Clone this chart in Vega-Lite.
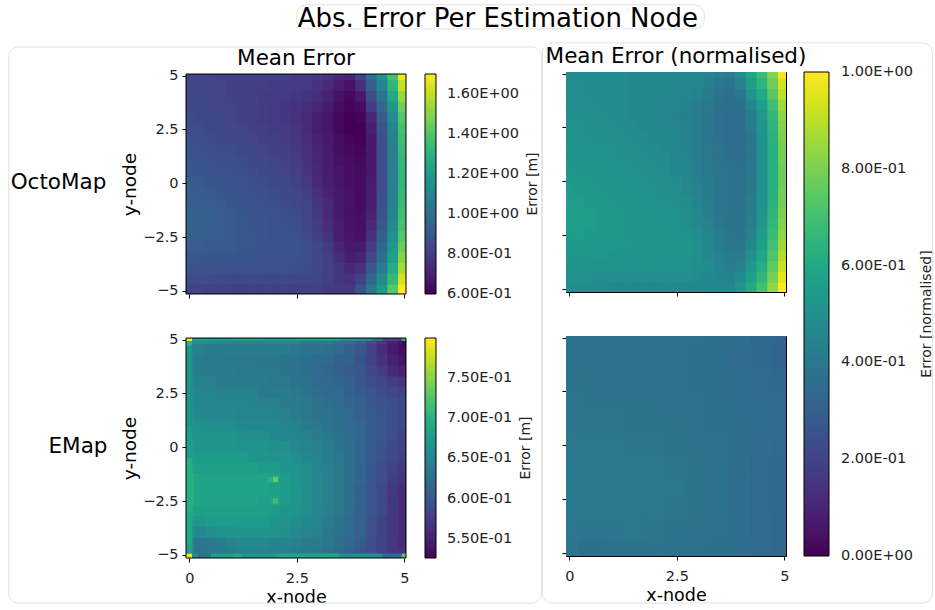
{"$schema":"https://vega.github.io/schema/vega-lite/v6.json","autosize":{"type":"none"},"padding":{"left":186,"top":72,"right":749,"bottom":538},"background":"white","title":{"text":"Abs. Error Per Estimation Node","fontSize":26,"fontWeight":"normal","font":"DejaVu Sans","color":"#000","anchor":"start","dx":290,"dy":32},"config":{"font":"DejaVu Sans","view":{"stroke":null},"axis":{"grid":false,"domain":false,"tickColor":"#000","tickSize":4,"labelColor":"#222","labelFontSize":14.5,"titleFontSize":18.5,"titleFontWeight":"normal","titleColor":"#000","labelPadding":4,"labelFlush":false},"legend":{"gradientStrokeColor":"#000","gradientStrokeWidth":1,"titleFontSize":14,"titleFontWeight":"normal","titleColor":"#222","labelFontSize":14.5,"labelColor":"#222","titleOrient":"right","titlePadding":21}},"datasets":{"cells":[
{"x":0,"y":5,"o":0.82,"e":0.67,"n":0.48},{"x":0.25,"y":5,"o":0.82,"e":0.66,"n":0.48},{"x":0.5,"y":5,"o":0.82,"e":0.66,"n":0.48},{"x":0.75,"y":5,"o":0.81,"e":0.65,"n":0.48},{"x":1,"y":5,"o":0.81,"e":0.65,"n":0.48},{"x":1.25,"y":5,"o":0.81,"e":0.65,"n":0.48},{"x":1.5,"y":5,"o":0.8,"e":0.65,"n":0.47},{"x":1.75,"y":5,"o":0.8,"e":0.65,"n":0.47},{"x":2,"y":5,"o":0.8,"e":0.65,"n":0.47},{"x":2.25,"y":5,"o":0.8,"e":0.65,"n":0.47},{"x":2.5,"y":5,"o":0.79,"e":0.65,"n":0.46},{"x":2.75,"y":5,"o":0.79,"e":0.64,"n":0.46},{"x":3,"y":5,"o":0.78,"e":0.64,"n":0.46},{"x":3.25,"y":5,"o":0.76,"e":0.64,"n":0.45},{"x":3.5,"y":5,"o":0.72,"e":0.63,"n":0.42},{"x":3.75,"y":5,"o":0.7,"e":0.62,"n":0.41},{"x":4,"y":5,"o":0.82,"e":0.61,"n":0.48},{"x":4.25,"y":5,"o":1.0,"e":0.59,"n":0.59},{"x":4.5,"y":5,"o":1.16,"e":0.57,"n":0.68},{"x":4.75,"y":5,"o":1.38,"e":0.55,"n":0.81},{"x":5,"y":5,"o":1.68,"e":0.54,"n":0.99},
{"x":0,"y":4.5,"o":0.83,"e":0.65,"n":0.49},{"x":0.25,"y":4.5,"o":0.83,"e":0.645,"n":0.49},{"x":0.5,"y":4.5,"o":0.82,"e":0.64,"n":0.48},{"x":0.75,"y":4.5,"o":0.82,"e":0.64,"n":0.48},{"x":1,"y":4.5,"o":0.81,"e":0.64,"n":0.48},{"x":1.25,"y":4.5,"o":0.81,"e":0.64,"n":0.48},{"x":1.5,"y":4.5,"o":0.8,"e":0.64,"n":0.47},{"x":1.75,"y":4.5,"o":0.8,"e":0.64,"n":0.47},{"x":2,"y":4.5,"o":0.79,"e":0.64,"n":0.46},{"x":2.25,"y":4.5,"o":0.79,"e":0.64,"n":0.46},{"x":2.5,"y":4.5,"o":0.78,"e":0.635,"n":0.46},{"x":2.75,"y":4.5,"o":0.78,"e":0.63,"n":0.46},{"x":3,"y":4.5,"o":0.76,"e":0.63,"n":0.45},{"x":3.25,"y":4.5,"o":0.73,"e":0.625,"n":0.43},{"x":3.5,"y":4.5,"o":0.68,"e":0.62,"n":0.4},{"x":3.75,"y":4.5,"o":0.65,"e":0.61,"n":0.38},{"x":4,"y":4.5,"o":0.74,"e":0.6,"n":0.44},{"x":4.25,"y":4.5,"o":0.93,"e":0.58,"n":0.55},{"x":4.5,"y":4.5,"o":1.1,"e":0.56,"n":0.65},{"x":4.75,"y":4.5,"o":1.32,"e":0.545,"n":0.78},{"x":5,"y":4.5,"o":1.6,"e":0.535,"n":0.94},
{"x":0,"y":4,"o":0.83,"e":0.65,"n":0.49},{"x":0.25,"y":4,"o":0.83,"e":0.64,"n":0.49},{"x":0.5,"y":4,"o":0.82,"e":0.64,"n":0.48},{"x":0.75,"y":4,"o":0.82,"e":0.64,"n":0.48},{"x":1,"y":4,"o":0.81,"e":0.635,"n":0.48},{"x":1.25,"y":4,"o":0.81,"e":0.635,"n":0.48},{"x":1.5,"y":4,"o":0.8,"e":0.635,"n":0.47},{"x":1.75,"y":4,"o":0.79,"e":0.635,"n":0.46},{"x":2,"y":4,"o":0.79,"e":0.635,"n":0.46},{"x":2.25,"y":4,"o":0.78,"e":0.63,"n":0.46},{"x":2.5,"y":4,"o":0.77,"e":0.63,"n":0.45},{"x":2.75,"y":4,"o":0.76,"e":0.625,"n":0.45},{"x":3,"y":4,"o":0.74,"e":0.62,"n":0.44},{"x":3.25,"y":4,"o":0.7,"e":0.62,"n":0.41},{"x":3.5,"y":4,"o":0.65,"e":0.61,"n":0.38},{"x":3.75,"y":4,"o":0.62,"e":0.61,"n":0.36},{"x":4,"y":4,"o":0.67,"e":0.595,"n":0.39},{"x":4.25,"y":4,"o":0.86,"e":0.58,"n":0.51},{"x":4.5,"y":4,"o":1.03,"e":0.565,"n":0.61},{"x":4.75,"y":4,"o":1.26,"e":0.55,"n":0.74},{"x":5,"y":4,"o":1.53,"e":0.54,"n":0.9},
{"x":0,"y":3.5,"o":0.84,"e":0.65,"n":0.49},{"x":0.25,"y":3.5,"o":0.84,"e":0.64,"n":0.49},{"x":0.5,"y":3.5,"o":0.83,"e":0.64,"n":0.49},{"x":0.75,"y":3.5,"o":0.82,"e":0.64,"n":0.48},{"x":1,"y":3.5,"o":0.82,"e":0.64,"n":0.48},{"x":1.25,"y":3.5,"o":0.81,"e":0.635,"n":0.48},{"x":1.5,"y":3.5,"o":0.8,"e":0.635,"n":0.47},{"x":1.75,"y":3.5,"o":0.79,"e":0.635,"n":0.46},{"x":2,"y":3.5,"o":0.78,"e":0.635,"n":0.46},{"x":2.25,"y":3.5,"o":0.77,"e":0.63,"n":0.45},{"x":2.5,"y":3.5,"o":0.76,"e":0.63,"n":0.45},{"x":2.75,"y":3.5,"o":0.74,"e":0.625,"n":0.44},{"x":3,"y":3.5,"o":0.71,"e":0.62,"n":0.42},{"x":3.25,"y":3.5,"o":0.68,"e":0.615,"n":0.4},{"x":3.5,"y":3.5,"o":0.63,"e":0.61,"n":0.37},{"x":3.75,"y":3.5,"o":0.61,"e":0.605,"n":0.36},{"x":4,"y":3.5,"o":0.63,"e":0.6,"n":0.37},{"x":4.25,"y":3.5,"o":0.78,"e":0.585,"n":0.46},{"x":4.5,"y":3.5,"o":0.96,"e":0.575,"n":0.56},{"x":4.75,"y":3.5,"o":1.18,"e":0.56,"n":0.69},{"x":5,"y":3.5,"o":1.46,"e":0.55,"n":0.86},
{"x":0,"y":3,"o":0.85,"e":0.655,"n":0.5},{"x":0.25,"y":3,"o":0.84,"e":0.645,"n":0.49},{"x":0.5,"y":3,"o":0.84,"e":0.645,"n":0.49},{"x":0.75,"y":3,"o":0.83,"e":0.64,"n":0.49},{"x":1,"y":3,"o":0.82,"e":0.64,"n":0.48},{"x":1.25,"y":3,"o":0.81,"e":0.64,"n":0.48},{"x":1.5,"y":3,"o":0.8,"e":0.64,"n":0.47},{"x":1.75,"y":3,"o":0.79,"e":0.64,"n":0.46},{"x":2,"y":3,"o":0.78,"e":0.635,"n":0.46},{"x":2.25,"y":3,"o":0.77,"e":0.635,"n":0.45},{"x":2.5,"y":3,"o":0.75,"e":0.63,"n":0.44},{"x":2.75,"y":3,"o":0.73,"e":0.63,"n":0.43},{"x":3,"y":3,"o":0.69,"e":0.62,"n":0.41},{"x":3.25,"y":3,"o":0.66,"e":0.62,"n":0.39},{"x":3.5,"y":3,"o":0.62,"e":0.615,"n":0.36},{"x":3.75,"y":3,"o":0.6,"e":0.61,"n":0.35},{"x":4,"y":3,"o":0.61,"e":0.6,"n":0.36},{"x":4.25,"y":3,"o":0.72,"e":0.59,"n":0.42},{"x":4.5,"y":3,"o":0.91,"e":0.585,"n":0.54},{"x":4.75,"y":3,"o":1.13,"e":0.575,"n":0.66},{"x":5,"y":3,"o":1.41,"e":0.565,"n":0.83},
{"x":0,"y":2.5,"o":0.86,"e":0.66,"n":0.51},{"x":0.25,"y":2.5,"o":0.85,"e":0.65,"n":0.5},{"x":0.5,"y":2.5,"o":0.84,"e":0.65,"n":0.49},{"x":0.75,"y":2.5,"o":0.83,"e":0.645,"n":0.49},{"x":1,"y":2.5,"o":0.83,"e":0.645,"n":0.49},{"x":1.25,"y":2.5,"o":0.82,"e":0.645,"n":0.48},{"x":1.5,"y":2.5,"o":0.81,"e":0.645,"n":0.48},{"x":1.75,"y":2.5,"o":0.8,"e":0.64,"n":0.47},{"x":2,"y":2.5,"o":0.79,"e":0.64,"n":0.46},{"x":2.25,"y":2.5,"o":0.78,"e":0.64,"n":0.46},{"x":2.5,"y":2.5,"o":0.77,"e":0.635,"n":0.45},{"x":2.75,"y":2.5,"o":0.73,"e":0.63,"n":0.43},{"x":3,"y":2.5,"o":0.69,"e":0.625,"n":0.41},{"x":3.25,"y":2.5,"o":0.66,"e":0.62,"n":0.39},{"x":3.5,"y":2.5,"o":0.62,"e":0.62,"n":0.36},{"x":3.75,"y":2.5,"o":0.6,"e":0.61,"n":0.35},{"x":4,"y":2.5,"o":0.6,"e":0.605,"n":0.35},{"x":4.25,"y":2.5,"o":0.69,"e":0.6,"n":0.41},{"x":4.5,"y":2.5,"o":0.88,"e":0.59,"n":0.52},{"x":4.75,"y":2.5,"o":1.1,"e":0.585,"n":0.65},{"x":5,"y":2.5,"o":1.38,"e":0.58,"n":0.81},
{"x":0,"y":2,"o":0.87,"e":0.66,"n":0.51},{"x":0.25,"y":2,"o":0.86,"e":0.65,"n":0.51},{"x":0.5,"y":2,"o":0.85,"e":0.65,"n":0.5},{"x":0.75,"y":2,"o":0.84,"e":0.65,"n":0.49},{"x":1,"y":2,"o":0.84,"e":0.65,"n":0.49},{"x":1.25,"y":2,"o":0.83,"e":0.65,"n":0.49},{"x":1.5,"y":2,"o":0.82,"e":0.645,"n":0.48},{"x":1.75,"y":2,"o":0.81,"e":0.645,"n":0.48},{"x":2,"y":2,"o":0.8,"e":0.645,"n":0.47},{"x":2.25,"y":2,"o":0.79,"e":0.64,"n":0.46},{"x":2.5,"y":2,"o":0.77,"e":0.64,"n":0.45},{"x":2.75,"y":2,"o":0.74,"e":0.635,"n":0.44},{"x":3,"y":2,"o":0.7,"e":0.63,"n":0.41},{"x":3.25,"y":2,"o":0.67,"e":0.625,"n":0.39},{"x":3.5,"y":2,"o":0.63,"e":0.62,"n":0.37},{"x":3.75,"y":2,"o":0.61,"e":0.615,"n":0.36},{"x":4,"y":2,"o":0.6,"e":0.61,"n":0.35},{"x":4.25,"y":2,"o":0.67,"e":0.6,"n":0.39},{"x":4.5,"y":2,"o":0.86,"e":0.595,"n":0.51},{"x":4.75,"y":2,"o":1.08,"e":0.59,"n":0.64},{"x":5,"y":2,"o":1.36,"e":0.585,"n":0.8},
{"x":0,"y":1.5,"o":0.88,"e":0.665,"n":0.52},{"x":0.25,"y":1.5,"o":0.87,"e":0.655,"n":0.51},{"x":0.5,"y":1.5,"o":0.86,"e":0.655,"n":0.51},{"x":0.75,"y":1.5,"o":0.85,"e":0.655,"n":0.5},{"x":1,"y":1.5,"o":0.85,"e":0.655,"n":0.5},{"x":1.25,"y":1.5,"o":0.84,"e":0.65,"n":0.49},{"x":1.5,"y":1.5,"o":0.83,"e":0.65,"n":0.49},{"x":1.75,"y":1.5,"o":0.82,"e":0.65,"n":0.48},{"x":2,"y":1.5,"o":0.81,"e":0.65,"n":0.48},{"x":2.25,"y":1.5,"o":0.8,"e":0.645,"n":0.47},{"x":2.5,"y":1.5,"o":0.78,"e":0.64,"n":0.46},{"x":2.75,"y":1.5,"o":0.75,"e":0.635,"n":0.44},{"x":3,"y":1.5,"o":0.71,"e":0.63,"n":0.42},{"x":3.25,"y":1.5,"o":0.68,"e":0.63,"n":0.4},{"x":3.5,"y":1.5,"o":0.64,"e":0.625,"n":0.38},{"x":3.75,"y":1.5,"o":0.62,"e":0.62,"n":0.36},{"x":4,"y":1.5,"o":0.61,"e":0.61,"n":0.36},{"x":4.25,"y":1.5,"o":0.67,"e":0.605,"n":0.39},{"x":4.5,"y":1.5,"o":0.85,"e":0.6,"n":0.5},{"x":4.75,"y":1.5,"o":1.07,"e":0.59,"n":0.63},{"x":5,"y":1.5,"o":1.35,"e":0.585,"n":0.79},
{"x":0,"y":1,"o":0.89,"e":0.665,"n":0.52},{"x":0.25,"y":1,"o":0.88,"e":0.66,"n":0.52},{"x":0.5,"y":1,"o":0.87,"e":0.66,"n":0.51},{"x":0.75,"y":1,"o":0.86,"e":0.66,"n":0.51},{"x":1,"y":1,"o":0.86,"e":0.66,"n":0.51},{"x":1.25,"y":1,"o":0.85,"e":0.655,"n":0.5},{"x":1.5,"y":1,"o":0.84,"e":0.655,"n":0.49},{"x":1.75,"y":1,"o":0.83,"e":0.655,"n":0.49},{"x":2,"y":1,"o":0.82,"e":0.655,"n":0.48},{"x":2.25,"y":1,"o":0.81,"e":0.65,"n":0.48},{"x":2.5,"y":1,"o":0.79,"e":0.645,"n":0.46},{"x":2.75,"y":1,"o":0.76,"e":0.64,"n":0.45},{"x":3,"y":1,"o":0.71,"e":0.635,"n":0.42},{"x":3.25,"y":1,"o":0.68,"e":0.63,"n":0.4},{"x":3.5,"y":1,"o":0.65,"e":0.625,"n":0.38},{"x":3.75,"y":1,"o":0.63,"e":0.62,"n":0.37},{"x":4,"y":1,"o":0.62,"e":0.615,"n":0.36},{"x":4.25,"y":1,"o":0.67,"e":0.605,"n":0.39},{"x":4.5,"y":1,"o":0.85,"e":0.6,"n":0.5},{"x":4.75,"y":1,"o":1.07,"e":0.59,"n":0.63},{"x":5,"y":1,"o":1.34,"e":0.585,"n":0.79},
{"x":0,"y":0.5,"o":0.9,"e":0.67,"n":0.53},{"x":0.25,"y":0.5,"o":0.89,"e":0.665,"n":0.52},{"x":0.5,"y":0.5,"o":0.88,"e":0.665,"n":0.52},{"x":0.75,"y":0.5,"o":0.88,"e":0.665,"n":0.52},{"x":1,"y":0.5,"o":0.87,"e":0.665,"n":0.51},{"x":1.25,"y":0.5,"o":0.86,"e":0.66,"n":0.51},{"x":1.5,"y":0.5,"o":0.85,"e":0.66,"n":0.5},{"x":1.75,"y":0.5,"o":0.84,"e":0.66,"n":0.49},{"x":2,"y":0.5,"o":0.83,"e":0.655,"n":0.49},{"x":2.25,"y":0.5,"o":0.82,"e":0.65,"n":0.48},{"x":2.5,"y":0.5,"o":0.8,"e":0.65,"n":0.47},{"x":2.75,"y":0.5,"o":0.77,"e":0.645,"n":0.45},{"x":3,"y":0.5,"o":0.72,"e":0.64,"n":0.42},{"x":3.25,"y":0.5,"o":0.68,"e":0.635,"n":0.4},{"x":3.5,"y":0.5,"o":0.66,"e":0.63,"n":0.39},{"x":3.75,"y":0.5,"o":0.64,"e":0.62,"n":0.38},{"x":4,"y":0.5,"o":0.63,"e":0.615,"n":0.37},{"x":4.25,"y":0.5,"o":0.67,"e":0.605,"n":0.39},{"x":4.5,"y":0.5,"o":0.85,"e":0.6,"n":0.5},{"x":4.75,"y":0.5,"o":1.07,"e":0.59,"n":0.63},{"x":5,"y":0.5,"o":1.33,"e":0.58,"n":0.78},
{"x":0,"y":0,"o":0.92,"e":0.675,"n":0.54},{"x":0.25,"y":0,"o":0.91,"e":0.67,"n":0.54},{"x":0.5,"y":0,"o":0.9,"e":0.67,"n":0.53},{"x":0.75,"y":0,"o":0.89,"e":0.67,"n":0.52},{"x":1,"y":0,"o":0.88,"e":0.67,"n":0.52},{"x":1.25,"y":0,"o":0.87,"e":0.665,"n":0.51},{"x":1.5,"y":0,"o":0.86,"e":0.665,"n":0.51},{"x":1.75,"y":0,"o":0.85,"e":0.665,"n":0.5},{"x":2,"y":0,"o":0.84,"e":0.66,"n":0.49},{"x":2.25,"y":0,"o":0.83,"e":0.66,"n":0.49},{"x":2.5,"y":0,"o":0.81,"e":0.655,"n":0.48},{"x":2.75,"y":0,"o":0.78,"e":0.65,"n":0.46},{"x":3,"y":0,"o":0.73,"e":0.645,"n":0.43},{"x":3.25,"y":0,"o":0.69,"e":0.64,"n":0.41},{"x":3.5,"y":0,"o":0.66,"e":0.63,"n":0.39},{"x":3.75,"y":0,"o":0.64,"e":0.625,"n":0.38},{"x":4,"y":0,"o":0.63,"e":0.615,"n":0.37},{"x":4.25,"y":0,"o":0.68,"e":0.605,"n":0.4},{"x":4.5,"y":0,"o":0.85,"e":0.595,"n":0.5},{"x":4.75,"y":0,"o":1.07,"e":0.585,"n":0.63},{"x":5,"y":0,"o":1.33,"e":0.58,"n":0.78},
{"x":0,"y":-0.5,"o":0.93,"e":0.68,"n":0.55},{"x":0.25,"y":-0.5,"o":0.92,"e":0.675,"n":0.54},{"x":0.5,"y":-0.5,"o":0.91,"e":0.675,"n":0.54},{"x":0.75,"y":-0.5,"o":0.9,"e":0.675,"n":0.53},{"x":1,"y":-0.5,"o":0.89,"e":0.675,"n":0.52},{"x":1.25,"y":-0.5,"o":0.88,"e":0.675,"n":0.52},{"x":1.5,"y":-0.5,"o":0.87,"e":0.67,"n":0.51},{"x":1.75,"y":-0.5,"o":0.86,"e":0.67,"n":0.51},{"x":2,"y":-0.5,"o":0.85,"e":0.665,"n":0.5},{"x":2.25,"y":-0.5,"o":0.84,"e":0.665,"n":0.49},{"x":2.5,"y":-0.5,"o":0.83,"e":0.66,"n":0.49},{"x":2.75,"y":-0.5,"o":0.8,"e":0.655,"n":0.47},{"x":3,"y":-0.5,"o":0.75,"e":0.65,"n":0.44},{"x":3.25,"y":-0.5,"o":0.7,"e":0.64,"n":0.41},{"x":3.5,"y":-0.5,"o":0.67,"e":0.635,"n":0.39},{"x":3.75,"y":-0.5,"o":0.65,"e":0.625,"n":0.38},{"x":4,"y":-0.5,"o":0.63,"e":0.615,"n":0.37},{"x":4.25,"y":-0.5,"o":0.68,"e":0.605,"n":0.4},{"x":4.5,"y":-0.5,"o":0.86,"e":0.595,"n":0.51},{"x":4.75,"y":-0.5,"o":1.07,"e":0.585,"n":0.63},{"x":5,"y":-0.5,"o":1.34,"e":0.575,"n":0.79},
{"x":0,"y":-1,"o":0.94,"e":0.685,"n":0.55},{"x":0.25,"y":-1,"o":0.93,"e":0.68,"n":0.55},{"x":0.5,"y":-1,"o":0.92,"e":0.68,"n":0.54},{"x":0.75,"y":-1,"o":0.91,"e":0.68,"n":0.54},{"x":1,"y":-1,"o":0.9,"e":0.68,"n":0.53},{"x":1.25,"y":-1,"o":0.89,"e":0.68,"n":0.52},{"x":1.5,"y":-1,"o":0.88,"e":0.68,"n":0.52},{"x":1.75,"y":-1,"o":0.87,"e":0.675,"n":0.51},{"x":2,"y":-1,"o":0.86,"e":0.675,"n":0.51},{"x":2.25,"y":-1,"o":0.85,"e":0.67,"n":0.5},{"x":2.5,"y":-1,"o":0.84,"e":0.665,"n":0.49},{"x":2.75,"y":-1,"o":0.82,"e":0.66,"n":0.48},{"x":3,"y":-1,"o":0.77,"e":0.65,"n":0.45},{"x":3.25,"y":-1,"o":0.72,"e":0.645,"n":0.42},{"x":3.5,"y":-1,"o":0.67,"e":0.635,"n":0.39},{"x":3.75,"y":-1,"o":0.65,"e":0.625,"n":0.38},{"x":4,"y":-1,"o":0.63,"e":0.615,"n":0.37},{"x":4.25,"y":-1,"o":0.69,"e":0.6,"n":0.41},{"x":4.5,"y":-1,"o":0.87,"e":0.59,"n":0.51},{"x":4.75,"y":-1,"o":1.09,"e":0.58,"n":0.64},{"x":5,"y":-1,"o":1.35,"e":0.57,"n":0.79},
{"x":0,"y":-1.5,"o":0.95,"e":0.7,"n":0.56},{"x":0.25,"y":-1.5,"o":0.94,"e":0.685,"n":0.55},{"x":0.5,"y":-1.5,"o":0.93,"e":0.685,"n":0.55},{"x":0.75,"y":-1.5,"o":0.92,"e":0.685,"n":0.54},{"x":1,"y":-1.5,"o":0.91,"e":0.685,"n":0.54},{"x":1.25,"y":-1.5,"o":0.9,"e":0.685,"n":0.53},{"x":1.5,"y":-1.5,"o":0.89,"e":0.685,"n":0.52},{"x":1.75,"y":-1.5,"o":0.88,"e":0.685,"n":0.52},{"x":2,"y":-1.5,"o":0.87,"e":0.685,"n":0.51},{"x":2.25,"y":-1.5,"o":0.86,"e":0.675,"n":0.51},{"x":2.5,"y":-1.5,"o":0.85,"e":0.665,"n":0.5},{"x":2.75,"y":-1.5,"o":0.83,"e":0.66,"n":0.49},{"x":3,"y":-1.5,"o":0.78,"e":0.655,"n":0.46},{"x":3.25,"y":-1.5,"o":0.72,"e":0.645,"n":0.42},{"x":3.5,"y":-1.5,"o":0.67,"e":0.635,"n":0.39},{"x":3.75,"y":-1.5,"o":0.65,"e":0.625,"n":0.38},{"x":4,"y":-1.5,"o":0.64,"e":0.615,"n":0.38},{"x":4.25,"y":-1.5,"o":0.7,"e":0.6,"n":0.41},{"x":4.5,"y":-1.5,"o":0.88,"e":0.59,"n":0.52},{"x":4.75,"y":-1.5,"o":1.1,"e":0.575,"n":0.65},{"x":5,"y":-1.5,"o":1.36,"e":0.565,"n":0.8},
{"x":0,"y":-2,"o":0.95,"e":0.7,"n":0.56},{"x":0.25,"y":-2,"o":0.94,"e":0.685,"n":0.55},{"x":0.5,"y":-2,"o":0.93,"e":0.685,"n":0.55},{"x":0.75,"y":-2,"o":0.92,"e":0.685,"n":0.54},{"x":1,"y":-2,"o":0.91,"e":0.685,"n":0.54},{"x":1.25,"y":-2,"o":0.9,"e":0.685,"n":0.53},{"x":1.5,"y":-2,"o":0.89,"e":0.685,"n":0.52},{"x":1.75,"y":-2,"o":0.89,"e":0.685,"n":0.52},{"x":2,"y":-2,"o":0.88,"e":0.68,"n":0.52},{"x":2.25,"y":-2,"o":0.87,"e":0.675,"n":0.51},{"x":2.5,"y":-2,"o":0.86,"e":0.67,"n":0.51},{"x":2.75,"y":-2,"o":0.84,"e":0.66,"n":0.49},{"x":3,"y":-2,"o":0.79,"e":0.655,"n":0.46},{"x":3.25,"y":-2,"o":0.74,"e":0.645,"n":0.44},{"x":3.5,"y":-2,"o":0.68,"e":0.635,"n":0.4},{"x":3.75,"y":-2,"o":0.65,"e":0.625,"n":0.38},{"x":4,"y":-2,"o":0.64,"e":0.61,"n":0.38},{"x":4.25,"y":-2,"o":0.72,"e":0.6,"n":0.42},{"x":4.5,"y":-2,"o":0.9,"e":0.585,"n":0.53},{"x":4.75,"y":-2,"o":1.12,"e":0.57,"n":0.66},{"x":5,"y":-2,"o":1.38,"e":0.56,"n":0.81},
{"x":0,"y":-2.5,"o":0.94,"e":0.7,"n":0.55},{"x":0.25,"y":-2.5,"o":0.93,"e":0.685,"n":0.55},{"x":0.5,"y":-2.5,"o":0.92,"e":0.685,"n":0.54},{"x":0.75,"y":-2.5,"o":0.92,"e":0.685,"n":0.54},{"x":1,"y":-2.5,"o":0.91,"e":0.685,"n":0.54},{"x":1.25,"y":-2.5,"o":0.9,"e":0.685,"n":0.53},{"x":1.5,"y":-2.5,"o":0.9,"e":0.685,"n":0.53},{"x":1.75,"y":-2.5,"o":0.89,"e":0.68,"n":0.52},{"x":2,"y":-2.5,"o":0.88,"e":0.685,"n":0.52},{"x":2.25,"y":-2.5,"o":0.88,"e":0.675,"n":0.52},{"x":2.5,"y":-2.5,"o":0.87,"e":0.67,"n":0.51},{"x":2.75,"y":-2.5,"o":0.85,"e":0.66,"n":0.5},{"x":3,"y":-2.5,"o":0.81,"e":0.655,"n":0.48},{"x":3.25,"y":-2.5,"o":0.76,"e":0.645,"n":0.45},{"x":3.5,"y":-2.5,"o":0.69,"e":0.635,"n":0.41},{"x":3.75,"y":-2.5,"o":0.66,"e":0.625,"n":0.39},{"x":4,"y":-2.5,"o":0.65,"e":0.61,"n":0.38},{"x":4.25,"y":-2.5,"o":0.75,"e":0.6,"n":0.44},{"x":4.5,"y":-2.5,"o":0.93,"e":0.585,"n":0.55},{"x":4.75,"y":-2.5,"o":1.15,"e":0.57,"n":0.68},{"x":5,"y":-2.5,"o":1.41,"e":0.56,"n":0.83},
{"x":0,"y":-3,"o":0.92,"e":0.69,"n":0.54},{"x":0.25,"y":-3,"o":0.92,"e":0.68,"n":0.54},{"x":0.5,"y":-3,"o":0.91,"e":0.68,"n":0.54},{"x":0.75,"y":-3,"o":0.91,"e":0.68,"n":0.54},{"x":1,"y":-3,"o":0.91,"e":0.68,"n":0.54},{"x":1.25,"y":-3,"o":0.9,"e":0.68,"n":0.53},{"x":1.5,"y":-3,"o":0.9,"e":0.68,"n":0.53},{"x":1.75,"y":-3,"o":0.89,"e":0.68,"n":0.52},{"x":2,"y":-3,"o":0.89,"e":0.675,"n":0.52},{"x":2.25,"y":-3,"o":0.88,"e":0.67,"n":0.52},{"x":2.5,"y":-3,"o":0.88,"e":0.665,"n":0.52},{"x":2.75,"y":-3,"o":0.86,"e":0.66,"n":0.51},{"x":3,"y":-3,"o":0.83,"e":0.65,"n":0.49},{"x":3.25,"y":-3,"o":0.78,"e":0.645,"n":0.46},{"x":3.5,"y":-3,"o":0.71,"e":0.635,"n":0.42},{"x":3.75,"y":-3,"o":0.67,"e":0.625,"n":0.39},{"x":4,"y":-3,"o":0.67,"e":0.61,"n":0.39},{"x":4.25,"y":-3,"o":0.79,"e":0.6,"n":0.46},{"x":4.5,"y":-3,"o":0.97,"e":0.585,"n":0.57},{"x":4.75,"y":-3,"o":1.19,"e":0.57,"n":0.7},{"x":5,"y":-3,"o":1.45,"e":0.56,"n":0.85},
{"x":0,"y":-3.5,"o":0.9,"e":0.68,"n":0.53},{"x":0.25,"y":-3.5,"o":0.9,"e":0.67,"n":0.53},{"x":0.5,"y":-3.5,"o":0.9,"e":0.675,"n":0.53},{"x":0.75,"y":-3.5,"o":0.9,"e":0.675,"n":0.53},{"x":1,"y":-3.5,"o":0.89,"e":0.675,"n":0.52},{"x":1.25,"y":-3.5,"o":0.89,"e":0.675,"n":0.52},{"x":1.5,"y":-3.5,"o":0.89,"e":0.675,"n":0.52},{"x":1.75,"y":-3.5,"o":0.88,"e":0.675,"n":0.52},{"x":2,"y":-3.5,"o":0.88,"e":0.67,"n":0.52},{"x":2.25,"y":-3.5,"o":0.88,"e":0.665,"n":0.52},{"x":2.5,"y":-3.5,"o":0.87,"e":0.66,"n":0.51},{"x":2.75,"y":-3.5,"o":0.86,"e":0.655,"n":0.51},{"x":3,"y":-3.5,"o":0.84,"e":0.65,"n":0.49},{"x":3.25,"y":-3.5,"o":0.8,"e":0.64,"n":0.47},{"x":3.5,"y":-3.5,"o":0.74,"e":0.63,"n":0.44},{"x":3.75,"y":-3.5,"o":0.69,"e":0.62,"n":0.41},{"x":4,"y":-3.5,"o":0.7,"e":0.61,"n":0.41},{"x":4.25,"y":-3.5,"o":0.84,"e":0.595,"n":0.49},{"x":4.5,"y":-3.5,"o":1.01,"e":0.58,"n":0.59},{"x":4.75,"y":-3.5,"o":1.23,"e":0.57,"n":0.72},{"x":5,"y":-3.5,"o":1.5,"e":0.56,"n":0.88},
{"x":0,"y":-4,"o":0.88,"e":0.67,"n":0.52},{"x":0.25,"y":-4,"o":0.88,"e":0.655,"n":0.52},{"x":0.5,"y":-4,"o":0.88,"e":0.66,"n":0.52},{"x":0.75,"y":-4,"o":0.87,"e":0.665,"n":0.51},{"x":1,"y":-4,"o":0.87,"e":0.665,"n":0.51},{"x":1.25,"y":-4,"o":0.87,"e":0.67,"n":0.51},{"x":1.5,"y":-4,"o":0.87,"e":0.67,"n":0.51},{"x":1.75,"y":-4,"o":0.87,"e":0.67,"n":0.51},{"x":2,"y":-4,"o":0.87,"e":0.665,"n":0.51},{"x":2.25,"y":-4,"o":0.87,"e":0.66,"n":0.51},{"x":2.5,"y":-4,"o":0.86,"e":0.655,"n":0.51},{"x":2.75,"y":-4,"o":0.85,"e":0.65,"n":0.5},{"x":3,"y":-4,"o":0.84,"e":0.645,"n":0.49},{"x":3.25,"y":-4,"o":0.81,"e":0.635,"n":0.48},{"x":3.5,"y":-4,"o":0.77,"e":0.63,"n":0.45},{"x":3.75,"y":-4,"o":0.72,"e":0.62,"n":0.42},{"x":4,"y":-4,"o":0.75,"e":0.61,"n":0.44},{"x":4.25,"y":-4,"o":0.9,"e":0.595,"n":0.53},{"x":4.5,"y":-4,"o":1.06,"e":0.58,"n":0.62},{"x":4.75,"y":-4,"o":1.28,"e":0.57,"n":0.75},{"x":5,"y":-4,"o":1.56,"e":0.56,"n":0.92},
{"x":0,"y":-4.5,"o":0.85,"e":0.66,"n":0.5},{"x":0.25,"y":-4.5,"o":0.85,"e":0.635,"n":0.5},{"x":0.5,"y":-4.5,"o":0.85,"e":0.635,"n":0.5},{"x":0.75,"y":-4.5,"o":0.84,"e":0.64,"n":0.49},{"x":1,"y":-4.5,"o":0.84,"e":0.65,"n":0.49},{"x":1.25,"y":-4.5,"o":0.84,"e":0.655,"n":0.49},{"x":1.5,"y":-4.5,"o":0.84,"e":0.655,"n":0.49},{"x":1.75,"y":-4.5,"o":0.84,"e":0.655,"n":0.49},{"x":2,"y":-4.5,"o":0.84,"e":0.65,"n":0.49},{"x":2.25,"y":-4.5,"o":0.84,"e":0.65,"n":0.49},{"x":2.5,"y":-4.5,"o":0.84,"e":0.645,"n":0.49},{"x":2.75,"y":-4.5,"o":0.83,"e":0.64,"n":0.49},{"x":3,"y":-4.5,"o":0.82,"e":0.64,"n":0.48},{"x":3.25,"y":-4.5,"o":0.8,"e":0.635,"n":0.47},{"x":3.5,"y":-4.5,"o":0.77,"e":0.625,"n":0.45},{"x":3.75,"y":-4.5,"o":0.75,"e":0.615,"n":0.44},{"x":4,"y":-4.5,"o":0.81,"e":0.605,"n":0.48},{"x":4.25,"y":-4.5,"o":0.97,"e":0.59,"n":0.57},{"x":4.5,"y":-4.5,"o":1.12,"e":0.58,"n":0.66},{"x":4.75,"y":-4.5,"o":1.34,"e":0.57,"n":0.79},{"x":5,"y":-4.5,"o":1.63,"e":0.56,"n":0.96},
{"x":0,"y":-5,"o":0.82,"e":0.66,"n":0.48},{"x":0.25,"y":-5,"o":0.82,"e":0.63,"n":0.48},{"x":0.5,"y":-5,"o":0.81,"e":0.635,"n":0.48},{"x":0.75,"y":-5,"o":0.81,"e":0.64,"n":0.48},{"x":1,"y":-5,"o":0.8,"e":0.64,"n":0.47},{"x":1.25,"y":-5,"o":0.8,"e":0.645,"n":0.47},{"x":1.5,"y":-5,"o":0.8,"e":0.645,"n":0.47},{"x":1.75,"y":-5,"o":0.8,"e":0.645,"n":0.47},{"x":2,"y":-5,"o":0.8,"e":0.645,"n":0.47},{"x":2.25,"y":-5,"o":0.8,"e":0.645,"n":0.47},{"x":2.5,"y":-5,"o":0.8,"e":0.64,"n":0.47},{"x":2.75,"y":-5,"o":0.8,"e":0.64,"n":0.47},{"x":3,"y":-5,"o":0.8,"e":0.635,"n":0.47},{"x":3.25,"y":-5,"o":0.79,"e":0.63,"n":0.46},{"x":3.5,"y":-5,"o":0.78,"e":0.62,"n":0.46},{"x":3.75,"y":-5,"o":0.78,"e":0.61,"n":0.46},{"x":4,"y":-5,"o":0.88,"e":0.6,"n":0.52},{"x":4.25,"y":-5,"o":1.04,"e":0.59,"n":0.61},{"x":4.5,"y":-5,"o":1.19,"e":0.58,"n":0.7},{"x":4.75,"y":-5,"o":1.41,"e":0.57,"n":0.83},{"x":5,"y":-5,"o":1.7,"e":0.565,"n":1.0}
],"emapNorm":[
{"x":0,"y":5,"n":0.385},{"x":0.5,"y":5,"n":0.38},{"x":1,"y":5,"n":0.38},{"x":1.5,"y":5,"n":0.38},{"x":2,"y":5,"n":0.38},{"x":2.5,"y":5,"n":0.375},{"x":3,"y":5,"n":0.37},{"x":3.5,"y":5,"n":0.365},{"x":4,"y":5,"n":0.36},{"x":4.5,"y":5,"n":0.335},{"x":5,"y":5,"n":0.32},
{"x":0,"y":4,"n":0.38},{"x":0.5,"y":4,"n":0.376},{"x":1,"y":4,"n":0.374},{"x":1.5,"y":4,"n":0.374},{"x":2,"y":4,"n":0.374},{"x":2.5,"y":4,"n":0.37},{"x":3,"y":4,"n":0.365},{"x":3.5,"y":4,"n":0.36},{"x":4,"y":4,"n":0.35},{"x":4.5,"y":4,"n":0.332},{"x":5,"y":4,"n":0.318},
{"x":0,"y":3,"n":0.385},{"x":0.5,"y":3,"n":0.379},{"x":1,"y":3,"n":0.376},{"x":1.5,"y":3,"n":0.376},{"x":2,"y":3,"n":0.374},{"x":2.5,"y":3,"n":0.37},{"x":3,"y":3,"n":0.365},{"x":3.5,"y":3,"n":0.362},{"x":4,"y":3,"n":0.353},{"x":4.5,"y":3,"n":0.344},{"x":5,"y":3,"n":0.332},
{"x":0,"y":2,"n":0.388},{"x":0.5,"y":2,"n":0.382},{"x":1,"y":2,"n":0.382},{"x":1.5,"y":2,"n":0.379},{"x":2,"y":2,"n":0.379},{"x":2.5,"y":2,"n":0.376},{"x":3,"y":2,"n":0.37},{"x":3.5,"y":2,"n":0.365},{"x":4,"y":2,"n":0.359},{"x":4.5,"y":2,"n":0.35},{"x":5,"y":2,"n":0.344},
{"x":0,"y":1,"n":0.391},{"x":0.5,"y":1,"n":0.388},{"x":1,"y":1,"n":0.388},{"x":1.5,"y":1,"n":0.385},{"x":2,"y":1,"n":0.385},{"x":2.5,"y":1,"n":0.379},{"x":3,"y":1,"n":0.374},{"x":3.5,"y":1,"n":0.368},{"x":4,"y":1,"n":0.362},{"x":4.5,"y":1,"n":0.353},{"x":5,"y":1,"n":0.344},
{"x":0,"y":0,"n":0.397},{"x":0.5,"y":0,"n":0.394},{"x":1,"y":0,"n":0.394},{"x":1.5,"y":0,"n":0.391},{"x":2,"y":0,"n":0.388},{"x":2.5,"y":0,"n":0.385},{"x":3,"y":0,"n":0.379},{"x":3.5,"y":0,"n":0.371},{"x":4,"y":0,"n":0.362},{"x":4.5,"y":0,"n":0.35},{"x":5,"y":0,"n":0.341},
{"x":0,"y":-1,"n":0.403},{"x":0.5,"y":-1,"n":0.4},{"x":1,"y":-1,"n":0.4},{"x":1.5,"y":-1,"n":0.4},{"x":2,"y":-1,"n":0.397},{"x":2.5,"y":-1,"n":0.391},{"x":3,"y":-1,"n":0.382},{"x":3.5,"y":-1,"n":0.374},{"x":4,"y":-1,"n":0.362},{"x":4.5,"y":-1,"n":0.347},{"x":5,"y":-1,"n":0.335},
{"x":0,"y":-2,"n":0.41},{"x":0.5,"y":-2,"n":0.403},{"x":1,"y":-2,"n":0.403},{"x":1.5,"y":-2,"n":0.403},{"x":2,"y":-2,"n":0.4},{"x":2.5,"y":-2,"n":0.394},{"x":3,"y":-2,"n":0.385},{"x":3.5,"y":-2,"n":0.374},{"x":4,"y":-2,"n":0.359},{"x":4.5,"y":-2,"n":0.344},{"x":5,"y":-2,"n":0.329},
{"x":0,"y":-3,"n":0.406},{"x":0.5,"y":-3,"n":0.4},{"x":1,"y":-3,"n":0.4},{"x":1.5,"y":-3,"n":0.4},{"x":2,"y":-3,"n":0.397},{"x":2.5,"y":-3,"n":0.391},{"x":3,"y":-3,"n":0.382},{"x":3.5,"y":-3,"n":0.374},{"x":4,"y":-3,"n":0.359},{"x":4.5,"y":-3,"n":0.344},{"x":5,"y":-3,"n":0.329},
{"x":0,"y":-4,"n":0.394},{"x":0.5,"y":-4,"n":0.388},{"x":1,"y":-4,"n":0.391},{"x":1.5,"y":-4,"n":0.394},{"x":2,"y":-4,"n":0.391},{"x":2.5,"y":-4,"n":0.385},{"x":3,"y":-4,"n":0.379},{"x":3.5,"y":-4,"n":0.371},{"x":4,"y":-4,"n":0.359},{"x":4.5,"y":-4,"n":0.341},{"x":5,"y":-4,"n":0.329},
{"x":0,"y":-5,"n":0.388},{"x":0.5,"y":-5,"n":0.368},{"x":1,"y":-5,"n":0.376},{"x":1.5,"y":-5,"n":0.379},{"x":2,"y":-5,"n":0.379},{"x":2.5,"y":-5,"n":0.376},{"x":3,"y":-5,"n":0.374},{"x":3.5,"y":-5,"n":0.365},{"x":4,"y":-5,"n":0.353},{"x":4.5,"y":-5,"n":0.341},{"x":5,"y":-5,"n":0.332}
],"emapEdge":[
{"x":0.06,"x2":0.5,"y":4.94,"y2":5.08,"v":0.68},{"x":0.5,"x2":1,"y":4.94,"y2":5.08,"v":0.675},{"x":1,"x2":1.75,"y":4.94,"y2":5.08,"v":0.685},{"x":1.75,"x2":3,"y":4.94,"y2":5.08,"v":0.675},{"x":3,"x2":3.5,"y":4.94,"y2":5.08,"v":0.68},{"x":3.5,"x2":4.25,"y":4.94,"y2":5.08,"v":0.66},{"x":4.25,"x2":4.5,"y":4.94,"y2":5.08,"v":0.63},{"x":4.5,"x2":4.94,"y":4.94,"y2":5.08,"v":0.58},{"x":4.94,"x2":5.04,"y":4.94,"y2":5.08,"v":0.69},{"x":4.94,"x2":5.04,"y":4.65,"y2":4.94,"v":0.53},
{"x":0.06,"x2":0.2,"y":-5.15,"y2":-4.94,"v":0.66},{"x":0.2,"x2":0.5,"y":-5.15,"y2":-4.94,"v":0.63},{"x":0.5,"x2":1,"y":-5.15,"y2":-4.94,"v":0.68},{"x":1,"x2":1.25,"y":-5.15,"y2":-4.94,"v":0.69},{"x":1.25,"x2":2,"y":-5.15,"y2":-4.94,"v":0.67},{"x":2,"x2":3.5,"y":-5.15,"y2":-4.94,"v":0.685},{"x":3.5,"x2":4.5,"y":-5.15,"y2":-4.94,"v":0.66},{"x":4.5,"x2":4.94,"y":-5.15,"y2":-4.94,"v":0.62},{"x":4.94,"x2":5.04,"y":-5.15,"y2":-4.94,"v":0.725},
{"x":-0.08,"x2":0.06,"y":4.94,"y2":5.08,"v":0.8},{"x":-0.08,"x2":0.06,"y":-5.15,"y2":-4.94,"v":0.8},{"x":-0.08,"x2":0.06,"y":4.7,"y2":4.94,"v":0.7},{"x":-0.08,"x2":0.06,"y":3,"y2":4.7,"v":0.67},{"x":-0.08,"x2":0.06,"y":1,"y2":3,"v":0.665},{"x":-0.08,"x2":0.06,"y":-0.5,"y2":1,"v":0.675},{"x":-0.08,"x2":0.06,"y":-3,"y2":-0.5,"v":0.695},{"x":-0.08,"x2":0.06,"y":-4.5,"y2":-3,"v":0.69},{"x":-0.08,"x2":0.06,"y":-4.94,"y2":-4.5,"v":0.68},
{"x":1.94,"x2":2.06,"y":-1.62,"y2":-1.38,"v":0.735},{"x":1.94,"x2":2.06,"y":-2.62,"y2":-2.38,"v":0.715},{"x":1.81,"x2":1.94,"y":-1.62,"y2":-1.38,"v":0.7}
],"frame":[{"a":-0.08,"b":5.04,"c":-5.15,"d":5.08}],"mask":[{"a":-0.08,"b":5.04,"c":5.08,"d":5.25}],"outlines":[{"a":-13.05,"b":-0.65,"c":-7.34,"d":18.52},{"a":-0.63,"b":8.45,"c":-7.34,"d":18.71},{"a":-6.35,"b":3.14,"c":19.36,"d":20.48}]},"columns":2,"spacing":{"row":42,"column":160},"bounds":"flush","resolve":{"scale":{"color":"independent"},"legend":{"color":"independent"}},"concat":[{"width":220,"height":222,"title":{"text":"Mean Error","fontSize":21.5,"fontWeight":"normal","color":"#000","offset":-2},"layer":[{"data":{"name":"cells"},"mark":{"type":"rect","width":12.5,"height":12.5,"clip":true},"encoding":{"x":{"field":"x","type":"quantitative","scale":{"domain":[-0.08,5.04],"nice":false},"axis":{"values":[0,2.5,5],"labels":false,"title":null}},"y":{"field":"y","type":"quantitative","scale":{"domain":[-5.15,5.08],"nice":false,"range":[222,2]},"axis":{"values":[-5,-2.5,0,2.5,5],"format":".1~f","title":"y-node","titlePadding":3}},"color":{"field":"o","type":"quantitative","scale":{"scheme":"viridis","domain":[0.6,1.7]},"legend":{"title":"Error [m]","orient":"none","legendX":239,"legendY":2,"gradientLength":220,"gradientThickness":11,"values":[0.6,0.8,1.0,1.2,1.4,1.6],"labelExpr":"replace(upper(format(datum.value,'.2e')),/([+-])/,'$10')","labelOffset":11,"titleAnchor":"middle","encode":{"title":{"update":{"angle":{"value":270}}},"labels":{"update":{"baseline":{"value":"middle"}}}}}}}},{"data":{"name":"mask"},"mark":{"type":"rect","fill":"white"},"encoding":{"x":{"field":"a","type":"quantitative"},"x2":{"field":"b"},"y":{"field":"c","type":"quantitative"},"y2":{"field":"d"}}},{"data":{"name":"frame"},"mark":{"type":"rect","filled":false,"stroke":"#000","strokeWidth":1},"encoding":{"x":{"field":"a","type":"quantitative"},"x2":{"field":"b"},"y":{"field":"c","type":"quantitative"},"y2":{"field":"d"}}},{"data":{"values":[{"t":"OctoMap","x":-4.16,"y":0}]},"mark":{"type":"text","align":"left","fontSize":21.5,"color":"#000"},"encoding":{"text":{"field":"t"},"x":{"field":"x","type":"quantitative"},"y":{"field":"y","type":"quantitative"}}}]},{"width":220,"height":220,"view":{"stroke":"#000","strokeWidth":1},"title":{"text":"Mean Error (normalised)","fontSize":21.5,"fontWeight":"normal","color":"#000","offset":5},"data":{"name":"cells"},"mark":{"type":"rect","width":12.5,"height":12.5,"clip":true},"encoding":{"x":{"field":"x","type":"quantitative","scale":{"domain":[-0.08,5.04],"nice":false},"axis":{"values":[0,2.5,5],"labels":false,"title":null}},"y":{"field":"y","type":"quantitative","scale":{"domain":[-5.15,5.08],"nice":false},"axis":{"values":[-5,-2.5,0,2.5,5],"labels":false,"title":null}},"color":{"field":"n","type":"quantitative","scale":{"scheme":"viridis","domain":[0,1]},"legend":{"title":"Error [normalised]","orient":"none","legendX":238,"legendY":0,"gradientLength":484,"gradientThickness":25,"values":[0,0.2,0.4,0.6,0.8,1],"labelExpr":"replace(upper(format(datum.value,'.2e')),/([+-])/,'$10')","labelOffset":12,"titleAnchor":"middle","encode":{"title":{"update":{"angle":{"value":270}}},"labels":{"update":{"baseline":{"value":"middle"}}}}}}}},{"width":220,"height":222,"layer":[{"data":{"name":"cells"},"mark":{"type":"rect","width":12.5,"height":12.5,"clip":true},"encoding":{"x":{"field":"x","type":"quantitative","scale":{"domain":[-0.08,5.04],"nice":false},"axis":{"values":[0,2.5,5],"format":".1~f","title":"x-node","titleFontSize":17.5,"labelPadding":9}},"y":{"field":"y","type":"quantitative","scale":{"domain":[-5.15,5.08],"nice":false,"range":[222,2]},"axis":{"values":[-5,-2.5,0,2.5,5],"format":".1~f","title":"y-node","titlePadding":3}},"color":{"field":"e","type":"quantitative","scale":{"scheme":"viridis","domain":[0.526,0.8]},"legend":{"title":"Error [m]","orient":"none","legendX":239,"legendY":2,"gradientLength":220,"gradientThickness":11,"values":[0.55,0.6,0.65,0.7,0.75],"labelExpr":"replace(upper(format(datum.value,'.2e')),/([+-])/,'$10')","labelOffset":11,"titleAnchor":"middle","encode":{"title":{"update":{"angle":{"value":270}}},"labels":{"update":{"baseline":{"value":"middle"}}}}}}}},{"data":{"name":"emapEdge"},"mark":{"type":"rect","clip":true},"encoding":{"x":{"field":"x","type":"quantitative"},"x2":{"field":"x2"},"y":{"field":"y","type":"quantitative"},"y2":{"field":"y2"},"color":{"field":"v","type":"quantitative","legend":null}}},{"data":{"name":"mask"},"mark":{"type":"rect","fill":"white"},"encoding":{"x":{"field":"a","type":"quantitative"},"x2":{"field":"b"},"y":{"field":"c","type":"quantitative"},"y2":{"field":"d"}}},{"data":{"name":"frame"},"mark":{"type":"rect","filled":false,"stroke":"#000","strokeWidth":1},"encoding":{"x":{"field":"a","type":"quantitative"},"x2":{"field":"b"},"y":{"field":"c","type":"quantitative"},"y2":{"field":"d"}}},{"data":{"values":[{"t":"EMap","x":-3.28,"y":0}]},"mark":{"type":"text","align":"left","fontSize":21.5,"color":"#000"},"encoding":{"text":{"field":"t"},"x":{"field":"x","type":"quantitative"},"y":{"field":"y","type":"quantitative"}}}]},{"width":220,"height":220,"view":{"stroke":"#000","strokeWidth":1},"layer":[{"data":{"name":"outlines"},"mark":{"type":"rect","filled":false,"stroke":"#e2e2e2","strokeWidth":1,"cornerRadius":10},"encoding":{"x":{"field":"a","type":"quantitative","scale":{"domain":[-0.08,5.04],"nice":false},"axis":{"values":[0,2.5,5],"format":".1~f","title":"x-node","titleFontSize":17.5,"labelPadding":9}},"x2":{"field":"b"},"y":{"field":"c","type":"quantitative","scale":{"domain":[-5.15,5.08],"nice":false},"axis":{"values":[-5,-2.5,0,2.5,5],"labels":false,"title":null}},"y2":{"field":"d"}}},{"data":{"name":"emapNorm"},"mark":{"type":"rect","width":23.5,"height":23.5,"clip":true},"encoding":{"x":{"field":"x","type":"quantitative"},"y":{"field":"y","type":"quantitative"},"color":{"field":"n","type":"quantitative","scale":{"scheme":"viridis","domain":[0,1]},"legend":null}}}]}]}
